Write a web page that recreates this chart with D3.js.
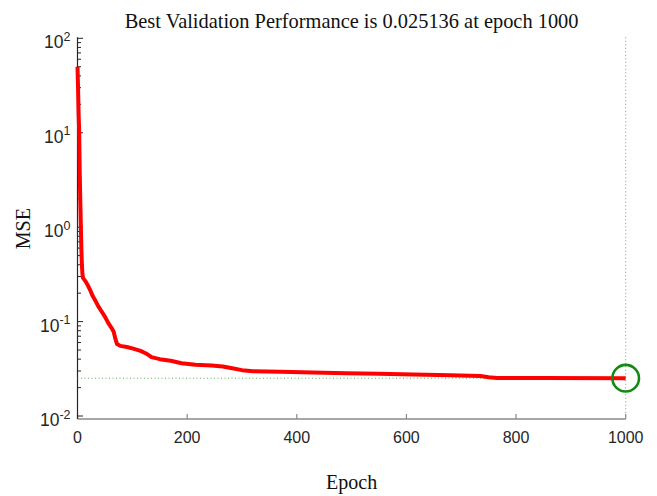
<!DOCTYPE html>
<html>
<head>
<meta charset="utf-8">
<script src="https://cdn.jsdelivr.net/npm/d3@7"></script>
<style>
  html, body { margin: 0; padding: 0; background: #fff; }
  svg { display: block; }
</style>
</head>
<body>
<svg id="chart" width="657" height="496"></svg>
<script>
// Validation MSE per training epoch
const epochs = [0, 1, 2, 3, 4, 5, 6, 7, 8, 9, 10, 15, 20, 24, 28, 33, 38, 44, 50, 56, 62, 66, 69, 72, 78, 90,
  100, 115, 125, 135, 150, 170, 190, 215, 245, 265, 280, 300, 320, 370, 430, 490, 550, 613, 680, 735,
  750, 765, 850, 1000];
const mse = [50, 30, 16, 10.5, 4, 2, 1.1, 0.6, 0.4, 0.32, 0.29, 0.265, 0.235, 0.21, 0.185, 0.165, 0.145,
  0.128, 0.113, 0.097, 0.086, 0.078, 0.066, 0.058, 0.0553, 0.0538,
  0.052, 0.049, 0.046, 0.042, 0.040, 0.0385, 0.0362, 0.0350, 0.0343, 0.0335, 0.0322, 0.0306, 0.0298,
  0.0294, 0.0289, 0.0284, 0.0280, 0.0275, 0.0271, 0.0266,
  0.0258, 0.0253, 0.0252, 0.025136];

const bestEpoch = 1000;
const bestPerf = 0.025136;

const xTicks = [0, 200, 400, 600, 800, 1000];
const yExponents = [-2, -1, 0, 1, 2];

const titleText = "Best Validation Performance is " + bestPerf + " at epoch " + bestEpoch;
const xLabel = "Epoch";
const yLabel = "MSE";

const svg = d3.select("#chart");

const plotLeft = 77.5, plotRight = 625.7, plotTop = 38.3, plotBottom = 419;
const x = d3.scaleLinear().domain([0, 1000]).range([plotLeft, plotRight]);
const y = d3.scaleLog().domain([0.0093, 100]).range([plotBottom, plotTop]);

const axisColor = "#262626";
const xAxisColor = "#8a8a8a";
const tickFont = "'Liberation Sans', Arial, sans-serif";
const serif = "'Liberation Serif', 'Times New Roman', serif";

// x axis: baseline and inward ticks
const xAxis = svg.append("g");
xAxis.append("line")
  .attr("x1", plotLeft).attr("x2", plotRight)
  .attr("y1", plotBottom).attr("y2", plotBottom)
  .attr("stroke", xAxisColor).attr("stroke-width", 1.6);
xAxis.selectAll("line.tick").data(xTicks).join("line")
  .attr("class", "tick")
  .attr("x1", d => x(d)).attr("x2", d => x(d))
  .attr("y1", plotBottom).attr("y2", plotBottom - 5)
  .attr("stroke", xAxisColor).attr("stroke-width", 1.2);
xAxis.selectAll("text").data(xTicks).join("text")
  .attr("x", d => x(d)).attr("y", plotBottom + 24)
  .attr("text-anchor", "middle")
  .attr("font-family", tickFont).attr("font-size", 16)
  .attr("fill", axisColor)
  .text(d => d);

// y axis: log scale with decade labels and minor ticks
const yAxis = svg.append("g");
yAxis.append("line")
  .attr("x1", plotLeft).attr("x2", plotLeft)
  .attr("y1", plotTop - 1).attr("y2", plotBottom)
  .attr("stroke", axisColor).attr("stroke-width", 1.2);

const minorTicks = [];
yExponents.slice(0, -1).forEach(e => {
  for (let m = 2; m <= 9; m++) minorTicks.push(m * Math.pow(10, e));
});
yAxis.selectAll("line.minor").data(minorTicks).join("line")
  .attr("class", "minor")
  .attr("x1", plotLeft).attr("x2", plotLeft + 3.5)
  .attr("y1", d => y(d)).attr("y2", d => y(d))
  .attr("stroke", axisColor).attr("stroke-width", 1);
yAxis.selectAll("line.major").data(yExponents).join("line")
  .attr("class", "major")
  .attr("x1", plotLeft).attr("x2", plotLeft + 5.5)
  .attr("y1", d => y(Math.pow(10, d))).attr("y2", d => y(Math.pow(10, d)))
  .attr("stroke", axisColor).attr("stroke-width", 1);

const yLab = yAxis.selectAll("text").data(yExponents).join("text")
  .attr("x", plotLeft - 7)
  .attr("y", d => y(Math.pow(10, d)) + 10)
  .attr("text-anchor", "end")
  .attr("font-family", tickFont).attr("font-size", 17.5)
  .attr("fill", axisColor);
yLab.append("tspan").text("10");
yLab.append("tspan").attr("dy", -7.5).attr("font-size", 12.5).text(d => d);

// reference lines at the best epoch / best performance
svg.append("line")
  .attr("x1", plotLeft).attr("x2", x(bestEpoch))
  .attr("y1", y(bestPerf)).attr("y2", y(bestPerf))
  .attr("stroke", "#5fae5f").attr("stroke-width", 1)
  .attr("stroke-dasharray", "1,2.5");
svg.append("line")
  .attr("x1", x(bestEpoch)).attr("x2", x(bestEpoch))
  .attr("y1", plotTop - 1).attr("y2", plotBottom)
  .attr("stroke", "#5fae5f").attr("stroke-width", 1)
  .attr("stroke-dasharray", "1,2.5");

// validation curve
const line = d3.line()
  .x((d, i) => x(epochs[i]))
  .y(d => y(d));
svg.append("path")
  .datum(mse)
  .attr("d", line)
  .attr("fill", "none")
  .attr("stroke", "#f00")
  .attr("stroke-width", 4)
  .attr("stroke-linejoin", "round")
  .attr("stroke-linecap", "butt");

// best point marker
svg.append("circle")
  .attr("cx", x(bestEpoch)).attr("cy", y(bestPerf))
  .attr("r", 13.3)
  .attr("fill", "none")
  .attr("stroke", "#118a11")
  .attr("stroke-width", 2.6);

// titles
const midX = (plotLeft + plotRight) / 2;
svg.append("text")
  .attr("x", midX).attr("y", 28)
  .attr("text-anchor", "middle")
  .attr("font-family", serif).attr("font-size", 20.4)
  .attr("fill", "#111")
  .text(titleText);
svg.append("text")
  .attr("x", midX).attr("y", 489)
  .attr("text-anchor", "middle")
  .attr("font-family", serif).attr("font-size", 20)
  .attr("fill", "#111")
  .text(xLabel);
svg.append("text")
  .attr("transform", `translate(30,${(plotTop + plotBottom) / 2}) rotate(-90)`)
  .attr("text-anchor", "middle")
  .attr("font-family", serif).attr("font-size", 20)
  .attr("fill", "#111")
  .text(yLabel);
</script>
</body>
</html>
